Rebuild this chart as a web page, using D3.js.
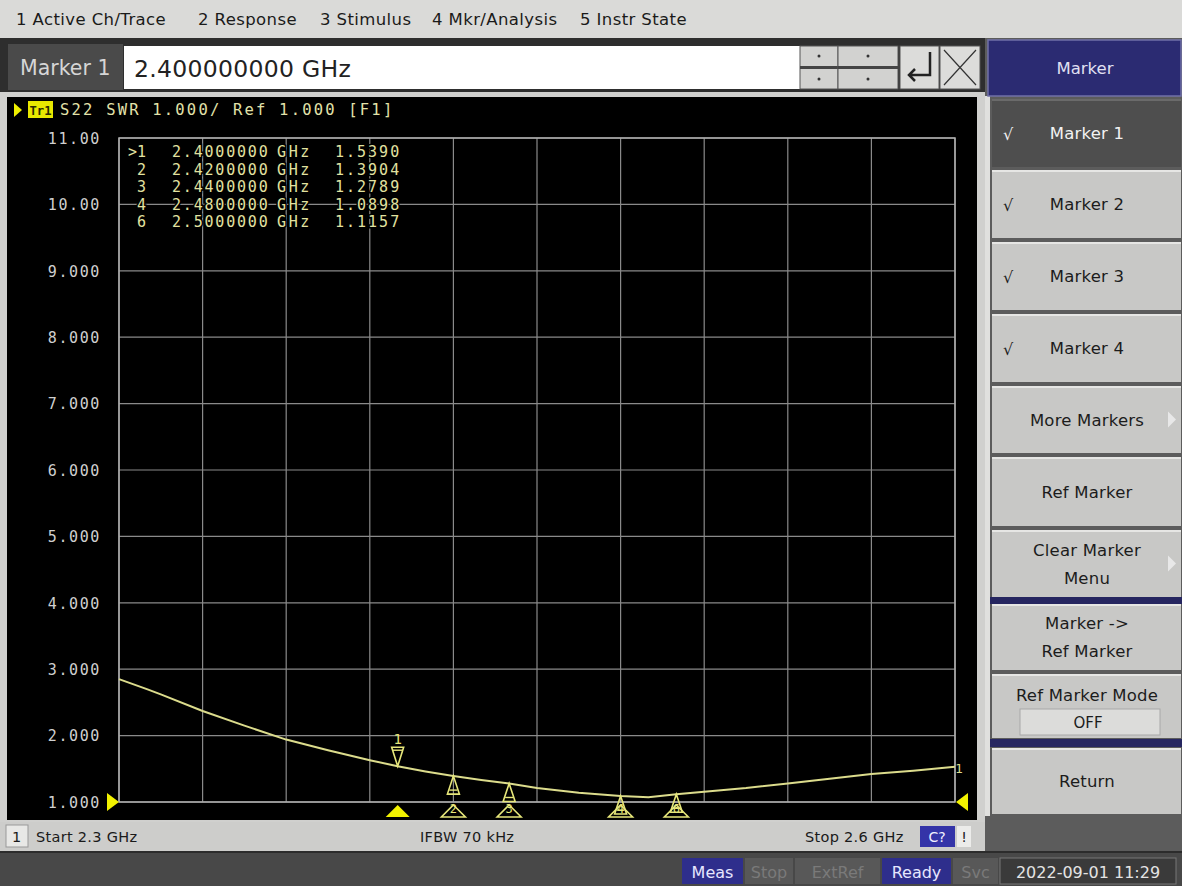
<!DOCTYPE html>
<html><head><meta charset="utf-8">
<script src="https://cdn.jsdelivr.net/npm/d3@7"></script>
<style>
body{margin:0;background:#d8d8d6;overflow:hidden}
svg{display:block}
</style>
</head><body>
<svg id="c" width="1182" height="886"></svg>
<script>
// ---------------- DATA ----------------
const menuItems = ["1 Active Ch/Trace", "2 Response", "3 Stimulus", "4 Mkr/Analysis", "5 Instr State"];
const entryLabel = "Marker 1";
const entryValue = "2.400000000 GHz";
const traceTitle = "S22 SWR 1.000/ Ref 1.000 [F1]";
const traceName = "Tr1";

const freqGHz = [2.300, 2.310, 2.315, 2.330, 2.345, 2.360, 2.375, 2.390, 2.400, 2.410, 2.420, 2.430, 2.440,
                 2.450, 2.465, 2.480, 2.490, 2.500, 2.510, 2.525, 2.540, 2.555, 2.570, 2.585, 2.600];
const swr     = [2.85, 2.70, 2.62, 2.37, 2.15, 1.94, 1.78, 1.63, 1.539, 1.46, 1.3904, 1.33, 1.2789,
                 1.21, 1.14, 1.0898, 1.07, 1.1157, 1.155, 1.21, 1.28, 1.35, 1.42, 1.47, 1.53];

const yTickValues = [11, 10, 9, 8, 7, 6, 5, 4, 3, 2, 1];
const yTickLabels = ["11.00", "10.00", "9.000", "8.000", "7.000", "6.000", "5.000", "4.000", "3.000", "2.000", "1.000"];
const xTickValues = [2.30, 2.33, 2.36, 2.39, 2.42, 2.45, 2.48, 2.51, 2.54, 2.57, 2.60];

const markerIds    = ["1", "2", "3", "4", "6"];
const markerFreqs  = [2.40, 2.42, 2.44, 2.48, 2.50];
const markerValues = [1.5390, 1.3904, 1.2789, 1.0898, 1.1157];
const markerFreqText = ["2.4000000", "2.4200000", "2.4400000", "2.4800000", "2.5000000"];
const markerValText  = ["1.5390", "1.3904", "1.2789", "1.0898", "1.1157"];

const softkeyTitle = "Marker";
const softkeyLabels = [["Marker 1"], ["Marker 2"], ["Marker 3"], ["Marker 4"], ["More Markers"], ["Ref Marker"],
                       ["Clear Marker", "Menu"], ["Marker ->", "Ref Marker"], ["Ref Marker Mode"], ["Return"]];
const refModeValue = "OFF";

const startLabel = "Start 2.3 GHz";
const ifbwLabel = "IFBW 70 kHz";
const stopLabel = "Stop 2.6 GHz";
const statusItems = ["Meas", "Stop", "ExtRef", "Ready", "Svc"];
const statusActive = [true, false, false, true, false];
const dateLabel = "2022-09-01 11:29";

// ---------------- DRAW ----------------
const svg = d3.select("#c");
const UI = "'DejaVu Sans', 'Liberation Sans', sans-serif";
const MONO = "'DejaVu Sans Mono', 'Liberation Mono', monospace";

// background
svg.append("rect").attr("width", 1182).attr("height", 886).attr("fill", "#d8d8d6");

// top menu
svg.append("rect").attr("x", 0).attr("y", 0).attr("width", 1182).attr("height", 38).attr("fill", "#dadad8");
const menuX = [16, 198, 320, 432, 580];
svg.selectAll("text.menu").data(menuItems).join("text")
  .attr("class", "menu").attr("x", (d, i) => menuX[i]).attr("y", 25)
  .attr("font-family", UI).attr("font-size", 16.5).attr("letter-spacing", 0.4).attr("fill", "#1a1a1a").text(d => d);

// entry bar
svg.append("rect").attr("x", 0).attr("y", 38).attr("width", 985).attr("height", 56).attr("fill", "#2e2e2e");
svg.append("rect").attr("x", 8).attr("y", 44).attr("width", 115).attr("height", 46).attr("fill", "#4a4a4a");
svg.append("text").attr("x", 20).attr("y", 75).attr("font-family", UI).attr("font-size", 20.5)
  .attr("fill", "#d6d6d6").text(entryLabel);
svg.append("rect").attr("x", 124).attr("y", 46).attr("width", 676).attr("height", 43).attr("fill", "#ffffff");
svg.append("text").attr("x", 134).attr("y", 77).attr("font-family", UI).attr("font-size", 23.5).attr("letter-spacing", 0.3)
  .attr("fill", "#222").text(entryValue);
// spinner + enter + cancel buttons
const btnG = svg.append("g");
[[800, 838], [838, 898]].forEach(([a, b]) => {
  btnG.append("rect").attr("x", a).attr("y", 46).attr("width", b - a).attr("height", 43)
    .attr("fill", "#d2d2d0").attr("stroke", "#555").attr("stroke-width", 1);
  btnG.append("line").attr("x1", a).attr("x2", b).attr("y1", 67.5).attr("y2", 67.5).attr("stroke", "#444").attr("stroke-width", 3);
  btnG.append("circle").attr("cx", (a + b) / 2).attr("cy", 56).attr("r", 1.5).attr("fill", "#333");
  btnG.append("circle").attr("cx", (a + b) / 2).attr("cy", 79).attr("r", 1.5).attr("fill", "#333");
});
btnG.append("rect").attr("x", 900).attr("y", 46).attr("width", 39).attr("height", 43).attr("fill", "#dcdcda").attr("stroke", "#555");
btnG.append("path").attr("d", "M930,52 V75 H909 M915,69 L909,75 L915,81").attr("fill", "none").attr("stroke", "#222").attr("stroke-width", 2.5);
btnG.append("rect").attr("x", 940).attr("y", 46).attr("width", 40).attr("height", 43).attr("fill", "#dcdcda").attr("stroke", "#555");
btnG.append("path").attr("d", "M944,50 L976,85 M976,50 L944,85").attr("stroke", "#333").attr("stroke-width", 1.2);

// chart window frame
svg.append("rect").attr("x", 0).attr("y", 92).attr("width", 986).attr("height", 730).attr("fill", "#d0d0ce");
svg.append("rect").attr("x", 7).attr("y", 97).attr("width", 970).attr("height", 723).attr("fill", "#000");

// scales
const x = d3.scaleLinear().domain([2.3, 2.6]).range([119, 955]);
const y = d3.scaleLinear().domain([1, 11]).range([802, 138]);

// grid
const grid = svg.append("g");
grid.selectAll("line.h").data(yTickValues).join("line").attr("class", "h")
  .attr("x1", x(2.3)).attr("x2", x(2.6)).attr("y1", d => y(d)).attr("y2", d => y(d))
  .attr("stroke", "#8a8a8a").attr("stroke-width", 1.2);
grid.selectAll("line.v").data(xTickValues).join("line").attr("class", "v")
  .attr("y1", y(11)).attr("y2", y(1)).attr("x1", d => x(d)).attr("x2", d => x(d))
  .attr("stroke", "#8a8a8a").attr("stroke-width", 1.2);
grid.append("rect").attr("x", x(2.3)).attr("y", y(11)).attr("width", x(2.6) - x(2.3)).attr("height", y(1) - y(11))
  .attr("fill", "none").attr("stroke", "#b0b0b0").attr("stroke-width", 1.5);

// y axis labels via d3 axis
const yAxis = d3.axisLeft(y).tickValues(yTickValues).tickFormat((d, i) => yTickLabels[i]).tickSize(0).tickPadding(0);
const yg = svg.append("g").attr("transform", "translate(101,0)").call(yAxis);
yg.select(".domain").remove();
yg.selectAll("text").attr("font-family", MONO).attr("font-size", 15).attr("letter-spacing", 1.6)
  .attr("fill", "#cfcfcf").attr("dy", "0.35em");

// title
svg.append("path").attr("d", "M14,103 L22,110 L14,117 Z").attr("fill", "#f0f000");
svg.append("rect").attr("x", 28).attr("y", 101).attr("width", 25).attr("height", 17).attr("fill", "#e8e800");
svg.append("text").attr("x", 29.5).attr("y", 114.5).attr("font-family", MONO).attr("font-size", 13).attr("font-weight", "bold")
  .attr("textLength", 22).attr("lengthAdjust", "spacingAndGlyphs")
  .attr("fill", "#2a2a00").text(traceName);
svg.append("text").attr("x", 60).attr("y", 115).attr("font-family", MONO).attr("font-size", 15.5).attr("letter-spacing", 2.2)
  .attr("fill", "#e2e2aa").text(traceTitle);

// marker table
const tbl = svg.append("g").attr("font-family", MONO).attr("font-size", 15).attr("fill", "#e2e2a0")
  .attr("stroke", "#000").attr("stroke-width", 3).attr("paint-order", "stroke");
const rowY = i => 157 + i * 17.5;
tbl.selectAll("text.id").data(markerIds).join("text").attr("class", "id")
  .attr("x", 146).attr("text-anchor", "end").attr("y", (d, i) => rowY(i)).text((d, i) => (i === 0 ? ">" : "") + d);
tbl.selectAll("text.f").data(markerFreqText).join("text").attr("class", "f")
  .attr("x", 172).attr("y", (d, i) => rowY(i)).attr("letter-spacing", 1.8).text(d => d);
tbl.selectAll("text.u").data(markerIds).join("text").attr("class", "u")
  .attr("x", 277).attr("y", (d, i) => rowY(i)).attr("letter-spacing", 2.6).text("GHz");
tbl.selectAll("text.v").data(markerValText).join("text").attr("class", "v")
  .attr("x", 335).attr("y", (d, i) => rowY(i)).attr("letter-spacing", 2.0).text(d => d);

// trace
const line = d3.line().x((d, i) => x(freqGHz[i])).y(d => y(d));
svg.append("path").datum(swr).attr("d", line).attr("fill", "none").attr("stroke", "#dcdc8c").attr("stroke-width", 2);
svg.append("text").attr("x", 955).attr("y", 773).attr("font-family", MONO).attr("font-size", 13)
  .attr("fill", "#dcdc8c").text("1");

// reference arrows
svg.append("path").attr("d", `M107,${y(1) - 9} L119,${y(1)} L107,${y(1) + 9} Z`).attr("fill", "#f2f200");
svg.append("path").attr("d", `M968,${y(1) - 9} L956,${y(1)} L968,${y(1) + 9} Z`).attr("fill", "#f2f200");

// markers on trace
const mk = svg.append("g");
markerIds.forEach((id, i) => {
  const mx = x(markerFreqs[i]);
  const my = y(markerValues[i]);
  const col = "#e6e67a";
  if (i === 0) {
    mk.append("path").attr("d", `M${mx - 6},${my - 19} L${mx + 6},${my - 19} L${mx},${my} Z`)
      .attr("fill", "none").attr("stroke", col).attr("stroke-width", 1.6);
    mk.append("line").attr("x1", mx - 5).attr("x2", mx + 5).attr("y1", my - 16).attr("y2", my - 16).attr("stroke", col).attr("stroke-width", 1.4);
    mk.append("text").attr("x", mx).attr("y", my - 22).attr("text-anchor", "middle").attr("font-family", MONO)
      .attr("font-size", 14).attr("fill", col).text(id);
    // stimulus triangle (active, filled)
    mk.append("path").attr("d", `M${mx},${y(1) + 3} L${mx + 12},${y(1) + 15} L${mx - 12},${y(1) + 15} Z`).attr("fill", "#f2f200");
  } else {
    mk.append("path").attr("d", `M${mx},${my} L${mx + 6},${my + 18} L${mx - 6},${my + 18} Z`)
      .attr("fill", "none").attr("stroke", col).attr("stroke-width", 1.6);
    mk.append("line").attr("x1", mx - 4).attr("x2", mx + 4).attr("y1", my + 14).attr("y2", my + 14).attr("stroke", col).attr("stroke-width", 1.4);
    mk.append("path").attr("d", `M${mx},${y(1) + 3} L${mx + 12},${y(1) + 15} L${mx - 12},${y(1) + 15} Z`)
      .attr("fill", "none").attr("stroke", col).attr("stroke-width", 1.6);
    mk.append("text").attr("x", mx).attr("y", y(1) + 11).attr("text-anchor", "middle").attr("font-family", MONO)
      .attr("font-size", 12).attr("fill", col).text(id);
  }
});

// status bar of chart window
svg.append("rect").attr("x", 0).attr("y", 822).attr("width", 986).attr("height", 29).attr("fill", "#cdcdcb");
svg.append("rect").attr("x", 6).attr("y", 825).attr("width", 22).attr("height", 22).attr("fill", "#e8e8e6").attr("stroke", "#999");
const sb = svg.append("g").attr("font-family", UI).attr("font-size", 14.5).attr("letter-spacing", 0.3).attr("fill", "#1a1a1a");
sb.append("text").attr("x", 12).attr("y", 842).text("1");
sb.append("text").attr("x", 36).attr("y", 842).text(startLabel);
sb.append("text").attr("x", 420).attr("y", 842).text(ifbwLabel);
sb.append("text").attr("x", 805).attr("y", 842).text(stopLabel);
svg.append("rect").attr("x", 920).attr("y", 826).attr("width", 35).attr("height", 21).attr("fill", "#3434a8");
svg.append("text").attr("x", 937).attr("y", 842).attr("text-anchor", "middle").attr("font-family", UI)
  .attr("font-size", 14).attr("fill", "#f0f0ff").text("C?");
svg.append("rect").attr("x", 957).attr("y", 826).attr("width", 14).attr("height", 21).attr("fill", "#ececea");
svg.append("text").attr("x", 964).attr("y", 842).attr("text-anchor", "middle").attr("font-family", UI)
  .attr("font-size", 14).attr("fill", "#222").text("!");

// right softkey panel
svg.append("rect").attr("x", 985).attr("y", 38).attr("width", 197).attr("height", 813).attr("fill", "#5c5c5c");
svg.append("rect").attr("x", 985).attr("y", 96).attr("width", 5).attr("height", 720).attr("fill", "#e0e0de");
svg.append("rect").attr("x", 988).attr("y", 40).attr("width", 193).attr("height", 56).attr("fill", "#2b2b72")
  .attr("stroke", "#7070a8").attr("stroke-width", 1.5);
svg.append("text").attr("x", 1085).attr("y", 74).attr("text-anchor", "middle").attr("font-family", UI)
  .attr("font-size", 16.5).attr("fill", "#e0e0f2").text(softkeyTitle);

const keyBox = [[99, 167], [170, 238], [242, 310], [314, 382], [386, 453], [457, 526], [530, 597], [604, 670], [674, 738], [748, 814]];
svg.append("rect").attr("x", 990).attr("y", 597).attr("width", 192).attr("height", 7).attr("fill", "#262660");
svg.append("rect").attr("x", 990).attr("y", 739).attr("width", 192).attr("height", 8).attr("fill", "#262660");
const keys = svg.append("g");
softkeyLabels.forEach((lines, i) => {
  const [a, b] = keyBox[i];
  const active = i === 0;
  keys.append("rect").attr("x", 992).attr("y", a).attr("width", 189).attr("height", b - a)
    .attr("fill", active ? "#4e4e4e" : "#c8c8c6");
  keys.append("line").attr("x1", 992).attr("x2", 1181).attr("y1", a + 1).attr("y2", a + 1)
    .attr("stroke", active ? "#6a6a6a" : "#e6e6e4").attr("stroke-width", 2);
  const cy = (a + b) / 2;
  let ty;
  if (i === 8) ty = [a + 27];
  else if (lines.length === 2) ty = [cy - 8, cy + 20];
  else ty = [cy + 6];
  lines.forEach((t, k) => {
    keys.append("text").attr("x", 1087).attr("y", ty[k]).attr("text-anchor", "middle").attr("font-family", UI)
      .attr("font-size", 16.5).attr("letter-spacing", 0.2).attr("fill", active ? "#f2f2f2" : "#1c1c1c").text(t);
  });
  if (i < 4) {
    keys.append("text").attr("x", 1003).attr("y", cy + 7).attr("font-family", UI).attr("font-size", 16)
      .attr("fill", active ? "#f2f2f2" : "#1c1c1c").text("√");
  }
  if (i === 4 || i === 6) {
    keys.append("path").attr("d", `M1168,${cy - 8} L1176,${cy} L1168,${cy + 8} Z`).attr("fill", "#e8e8e8");
  }
  if (i === 8) {
    keys.append("rect").attr("x", 1020).attr("y", 709).attr("width", 140).attr("height", 26)
      .attr("fill", "#dcdcda").attr("stroke", "#a8a8a8");
    keys.append("text").attr("x", 1088).attr("y", 728).attr("text-anchor", "middle").attr("font-family", UI)
      .attr("font-size", 15).attr("fill", "#1c1c1c").text(refModeValue);
  }
});

// bottom status bar
svg.append("rect").attr("x", 0).attr("y", 851).attr("width", 1182).attr("height", 35).attr("fill", "#484848");
svg.append("line").attr("x1", 0).attr("x2", 1182).attr("y1", 852).attr("y2", 852).attr("stroke", "#2c2c2c").attr("stroke-width", 2);
const stX = [[682, 743], [745, 793], [795, 880], [882, 951], [953, 998]];
statusItems.forEach((t, i) => {
  const [a, b] = stX[i];
  svg.append("rect").attr("x", a).attr("y", 858).attr("width", b - a).attr("height", 26)
    .attr("fill", statusActive[i] ? "#2e2e8c" : "#585858");
  svg.append("text").attr("x", (a + b) / 2).attr("y", 878).attr("text-anchor", "middle").attr("font-family", UI)
    .attr("font-size", 16).attr("fill", statusActive[i] ? "#e6e6ff" : "#7a7a7a").text(t);
});
svg.append("rect").attr("x", 1000).attr("y", 858).attr("width", 176).attr("height", 26).attr("fill", "#3a3a3a").attr("stroke", "#777");
svg.append("text").attr("x", 1088).attr("y", 878).attr("text-anchor", "middle").attr("font-family", UI)
  .attr("font-size", 16).attr("fill", "#e4e4e4").text(dateLabel);
</script>
</body></html>
